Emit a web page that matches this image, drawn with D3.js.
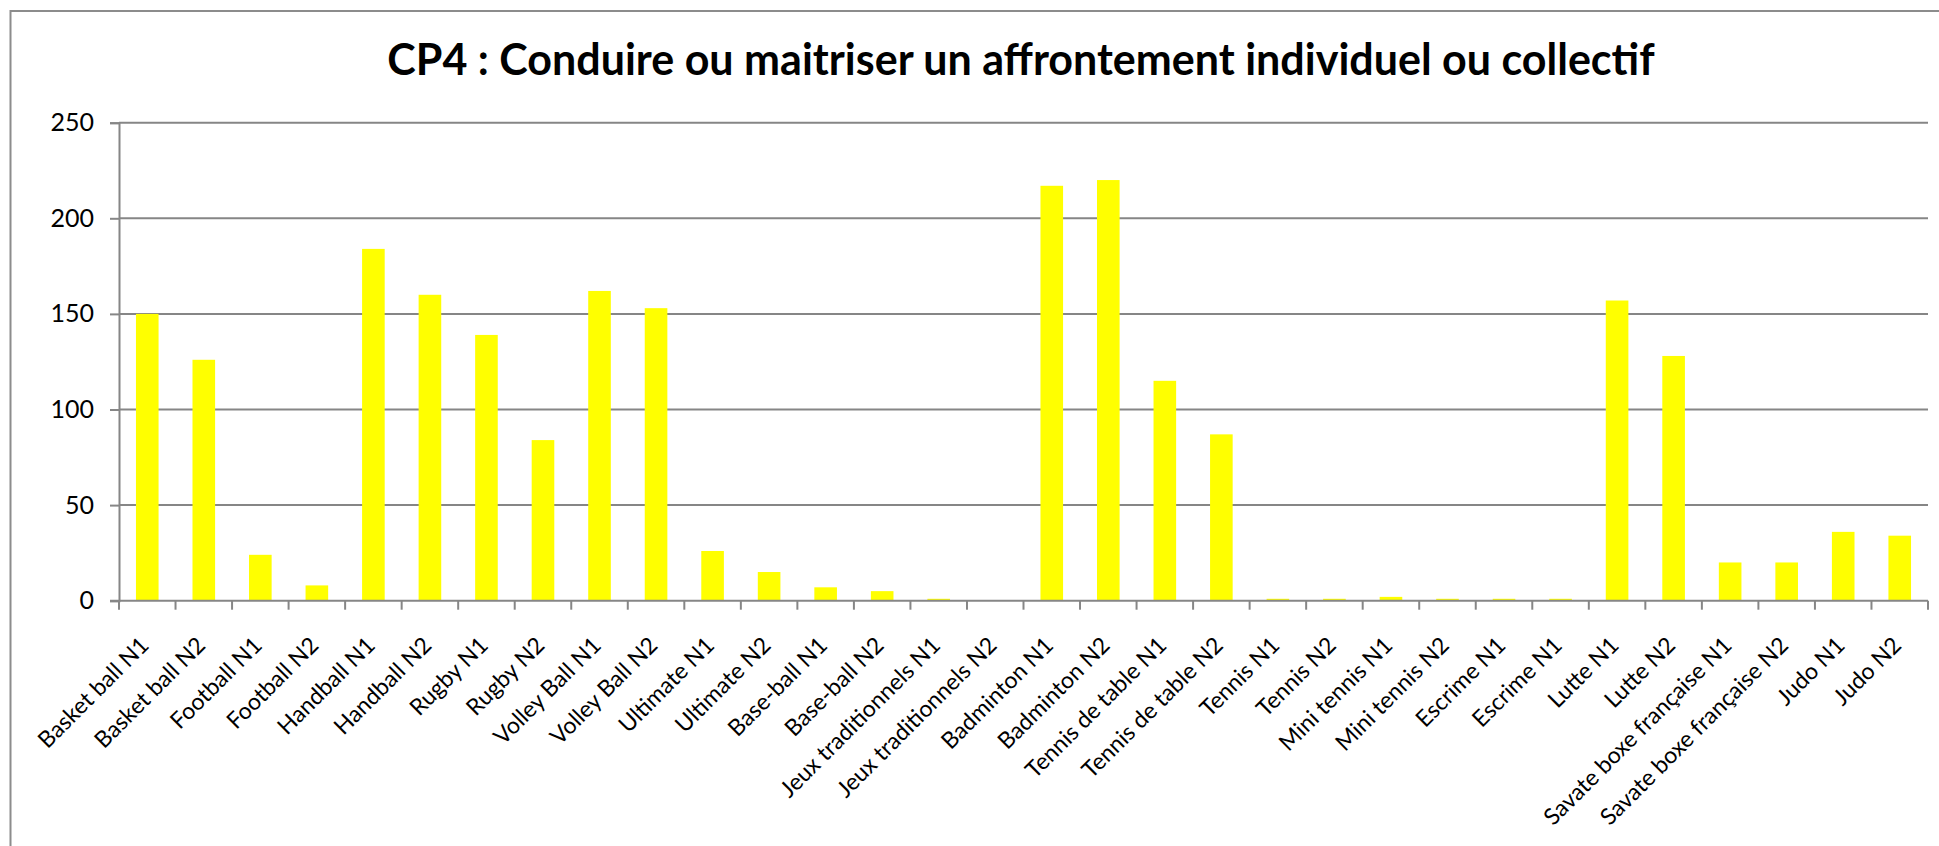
<!DOCTYPE html>
<html>
<head>
<meta charset="utf-8">
<script src="https://cdn.jsdelivr.net/npm/d3@7"></script>
<style>
  body { margin: 0; background: #fff; }
  svg { display: block; }
  text { font-family: Lato, "Open Sans", sans-serif; fill: #000; }
</style>
</head>
<body>
<script>
// data
var categories = [
  "Basket ball N1", "Basket ball N2", "Football N1", "Football N2",
  "Handball N1", "Handball N2", "Rugby N1", "Rugby N2",
  "Volley Ball N1", "Volley Ball N2", "Ultimate N1", "Ultimate N2",
  "Base-ball N1", "Base-ball N2", "Jeux traditionnels N1", "Jeux traditionnels N2",
  "Badminton N1", "Badminton N2", "Tennis de table N1", "Tennis de table N2",
  "Tennis N1", "Tennis N2", "Mini tennis N1", "Mini tennis N2",
  "Escrime N1", "Escrime N1 ", "Lutte N1", "Lutte N2",
  "Savate boxe française N1", "Savate boxe française N2", "Judo N1", "Judo N2"
];
var values = [
  150, 126, 24, 8,
  184, 160, 139, 84,
  162, 153, 26, 15,
  7, 5, 1, 0,
  217, 220, 115, 87,
  1, 1, 2, 1,
  1, 1, 157, 128,
  20, 20, 36, 34
];
var yTicks = [0, 50, 100, 150, 200, 250];
var title = "CP4 : Conduire ou maitriser un affrontement individuel ou collectif";

var W = 1939, H = 846;
var plot = {left: 119, right: 1928, top: 122.7, bottom: 600.7};

var svg = d3.select("body").append("svg")
  .attr("width", W)
  .attr("height", H);

// chart border (right and bottom edges fall outside the picture)
svg.append("rect")
  .attr("x", 10.5).attr("y", 11)
  .attr("width", W + 20).attr("height", H + 20)
  .attr("fill", "none")
  .attr("stroke", "#8c8c8c")
  .attr("stroke-width", 2);

var x = d3.scaleBand()
  .domain(categories)
  .range([plot.left, plot.right])
  .paddingInner(0.6)
  .paddingOuter(0.3);

var y = d3.scaleLinear()
  .domain([0, 250])
  .range([plot.bottom, plot.top]);

// gridlines
svg.append("g")
  .selectAll("line")
  .data(yTicks.filter(function(d) { return d > 0; }))
  .enter()
  .append("line")
  .attr("x1", plot.left).attr("x2", plot.right)
  .attr("y1", function(d) { return y(d); })
  .attr("y2", function(d) { return y(d); })
  .attr("stroke", "#868686")
  .attr("stroke-width", 2);

// bars
svg.append("g")
  .selectAll("rect")
  .data(values)
  .enter()
  .append("rect")
  .attr("x", function(d, i) { return x(categories[i]); })
  .attr("width", x.bandwidth())
  .attr("y", function(d) { return y(d); })
  .attr("height", function(d) { return y(0) - y(d); })
  .attr("fill", "#ffff00");

// y axis
var yAxis = svg.append("g")
  .attr("transform", "translate(" + plot.left + ",0)")
  .call(d3.axisLeft(y).tickValues(yTicks).tickSize(9).tickPadding(16));
yAxis.select(".domain").attr("stroke", "#868686").attr("stroke-width", 2);
yAxis.selectAll(".tick line").attr("stroke", "#868686").attr("stroke-width", 2);
yAxis.selectAll(".tick text")
  .style("font-size", "25px")
  .style("font-family", "Lato, sans-serif");

// x axis line
svg.append("line")
  .attr("x1", plot.left - 9).attr("x2", plot.right)
  .attr("y1", plot.bottom).attr("y2", plot.bottom)
  .attr("stroke", "#868686")
  .attr("stroke-width", 2);

// x ticks at category boundaries
var step = x.step();
var bounds = categories.map(function(c) { return x(c) - step * 0.3; });
bounds.push(plot.right);
svg.append("g")
  .selectAll("line")
  .data(bounds)
  .enter()
  .append("line")
  .attr("x1", function(d) { return d; })
  .attr("x2", function(d) { return d; })
  .attr("y1", plot.bottom)
  .attr("y2", plot.bottom + 9)
  .attr("stroke", "#868686")
  .attr("stroke-width", 2);

// x labels, rotated
svg.append("g")
  .selectAll("text")
  .data(categories)
  .enter()
  .append("text")
  .attr("transform", function(d) {
    var cx = x(d) + x.bandwidth() / 2 + 3;
    return "translate(" + cx + "," + (plot.bottom + 46) + ") rotate(-45)";
  })
  .attr("text-anchor", "end")
  .style("font-size", "23px")
  .text(function(d) { return d.trim(); });

// title
svg.append("text")
  .attr("x", 1021)
  .attr("y", 75)
  .attr("text-anchor", "middle")
  .style("font-size", "43px")
  .style("font-weight", "bold")
  .text(title);
</script>
</body>
</html>
